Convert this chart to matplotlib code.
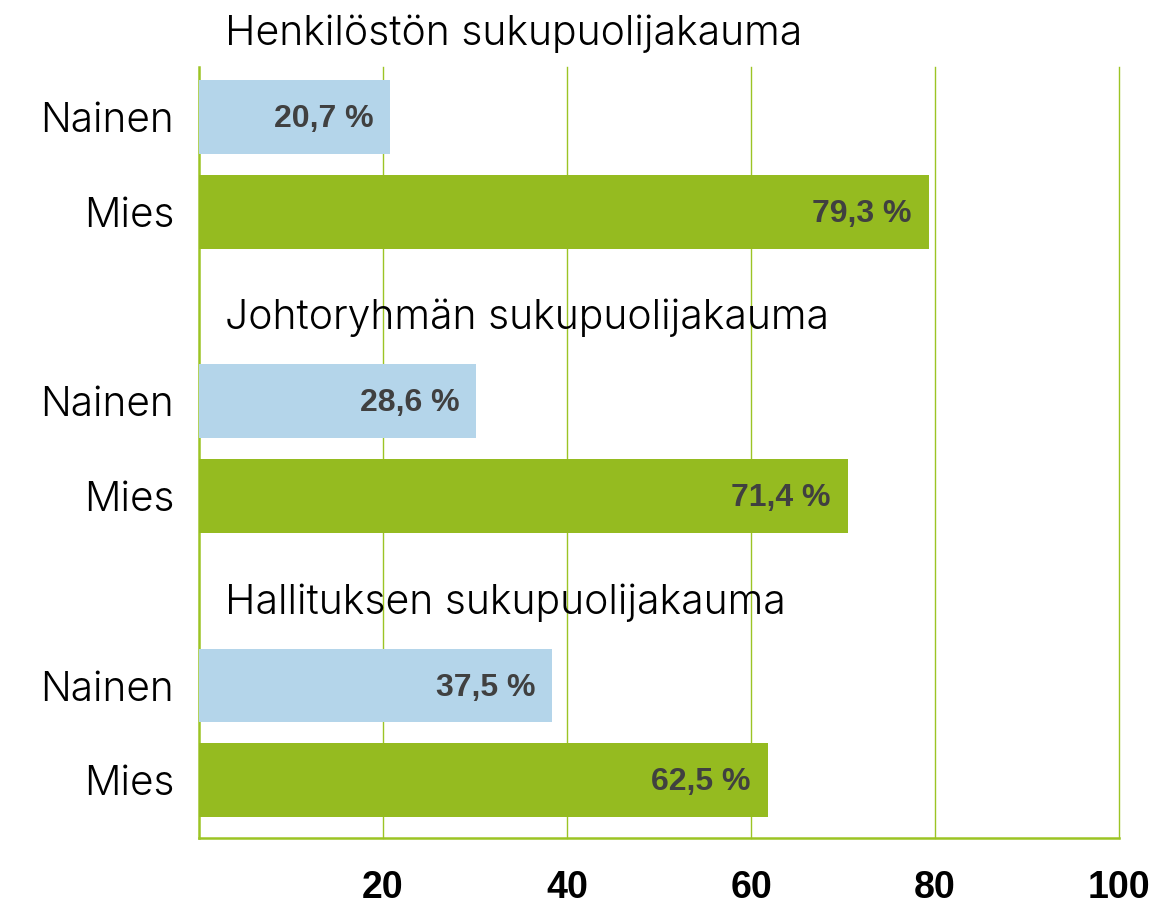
import matplotlib
matplotlib.use("Agg")
import matplotlib.pyplot as plt

# ---- data ----
group_titles = ["Henkilöstön sukupuolijakauma",
                "Johtoryhmän sukupuolijakauma",
                "Hallituksen sukupuolijakauma"]
categories = ["Nainen", "Mies"]
# bar lengths as drawn in the picture
nainen_bars = [20.8, 30.1, 38.4]
mies_bars = [79.3, 70.5, 61.8]
# value labels printed on the bars
nainen_labels = ["20,7 %", "28,6 %", "37,5 %"]
mies_labels = ["79,3 %", "71,4 %", "62,5 %"]
x_ticks = [20, 40, 60, 80, 100]

# ---- style ----
BLUE = "#B4D5EA"
GREEN = "#95BB20"
GRID = "#9CC424"
LABEL = "#404040"
TEXT_FONT = ["Inter", "DejaVu Sans"]
NUM_FONT = ["Liberation Sans", "DejaVu Sans"]

fig = plt.figure(figsize=(11.62, 9.08), dpi=100)
ax = fig.add_axes([199/1162, 1-838/908, (1119-199)/1162, (838-67)/908])

ypos, yl, vals, labs, cols = [], [], [], [], []
for g in range(len(group_titles)):
    for c, v, lab, col in ((0, nainen_bars[g], nainen_labels[g], BLUE),
                           (1, mies_bars[g], mies_labels[g], GREEN)):
        ypos.append(3*g + 1 + c)
        yl.append(categories[c])
        vals.append(v)
        labs.append(lab)
        cols.append(col)

bars = ax.barh(ypos, vals, height=0.78, color=cols, zorder=2)

for b, lab in zip(bars, labs):
    ax.annotate(lab,
                xy=(b.get_width(), b.get_y() + b.get_height()/2),
                xytext=(-12, 1), textcoords="offset points",
                ha="right", va="center_baseline",
                fontsize=23, fontweight="bold", color=LABEL,
                family=NUM_FONT, zorder=3)

for g, t in enumerate(group_titles):
    ax.text(2.8, 3*g + 1 - 0.76, t, ha="left", va="baseline",
            fontsize=29.5, fontweight=300, family=TEXT_FONT, color="black",
            clip_on=False, zorder=3)

ax.set_xlim(0, 100)
ax.set_ylim(8.61, 0.47)
ax.set_xticks(x_ticks)
ax.set_xticklabels([str(t) for t in x_ticks], fontsize=27,
                   fontweight="bold", family=NUM_FONT)
ax.set_yticks(ypos)
ax.set_yticklabels(yl, fontsize=29.2, fontweight=300, family=TEXT_FONT)
ax.tick_params(axis="both", length=0)
ax.tick_params(axis="x", pad=23)
ax.tick_params(axis="y", pad=18)

ax.grid(False)
for t in x_ticks:
    ax.axvline(t, color=GRID, linewidth=1.0, zorder=0.5, clip_on=False)
for s in ("top", "right"):
    ax.spines[s].set_visible(False)
for s in ("left", "bottom"):
    ax.spines[s].set_color(GRID)
    ax.spines[s].set_linewidth(1.8)
    ax.spines[s].set_zorder(1)

fig.savefig("out.png", dpi=100)
